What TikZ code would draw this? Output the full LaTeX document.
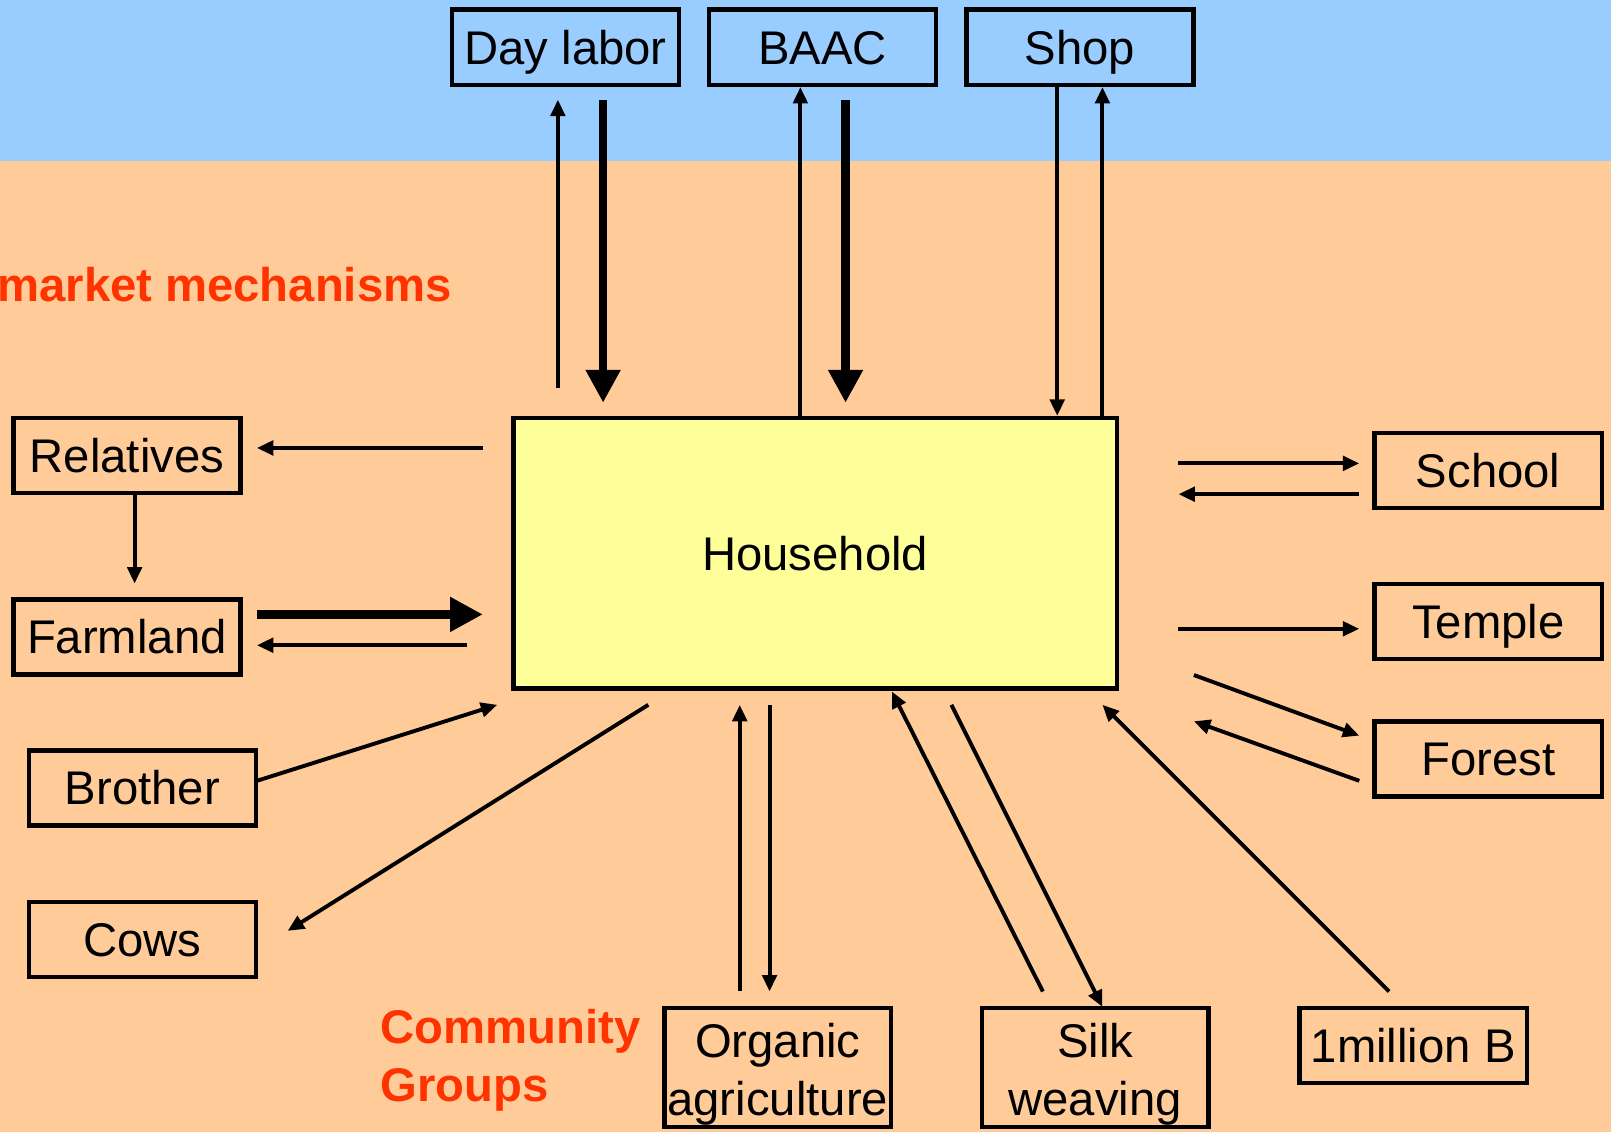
\documentclass[tikz,border=0pt]{standalone}
\usepackage{fontspec}
\setmainfont{Liberation Sans}
\usetikzlibrary{arrows.meta}
\definecolor{skyband}{HTML}{99CCFF}
\definecolor{peach}{HTML}{FFCC99}
\definecolor{hhyellow}{HTML}{FFFF99}
\definecolor{redtext}{HTML}{FF3300}
\tikzset{
  boxbase/.style={draw=black, line width=2.2pt, inner sep=0pt, minimum width=110.5pt, minimum height=36.5pt, font=\fontsize{23}{28}\selectfont, align=center},
  box/.style={boxbase, text height=16.5pt, text depth=0pt},
  thinarrow/.style={line width=1.9pt, -{Triangle[length=8pt,width=7pt]}},
  thickarrow/.style={line width=4pt, -{Triangle[length=16pt,width=16pt]}},
  label/.style={text=redtext, font=\bfseries\fontsize{23}{28}\selectfont, inner sep=0pt, align=left}
}
\begin{document}
\begin{tikzpicture}[x=0.5pt,y=-0.5pt]
\useasboundingbox (0,0) rectangle (1568,1102);
\fill[peach] (0,0) rectangle (1568,1102);
\fill[skyband] (0,0) rectangle (1568,157);

% nodes
\node[box] (day) at (550.5,46) {Day labor};
\node[box] (baac) at (800.5,46) {BAAC};
\node[box] (shop) at (1051,46) {Shop};
\node[box, fill=hhyellow, minimum width=293.5pt, minimum height=131.5pt] (hh) at (793.5,538.5) {Household};
\node[box] (rel) at (123.5,443.5) {Relatives};
\node[box] (farm) at (123.5,620) {Farmland};
\node[box] (bro) at (138.5,767) {Brother};
\node[box] (cows) at (138.5,914.5) {Cows};
\node[box] (school) at (1448.5,458) {School};
\node[box] (temple) at (1448.5,605) {Temple};
\node[box] (forest) at (1448.5,738.5) {Forest};
\node[boxbase, minimum width=110pt, minimum height=58pt] (org) at (757,1039) {\rule{0pt}{23pt}Organic\\agriculture};
\node[boxbase, minimum width=110pt, minimum height=58pt] (silk) at (1066,1039) {\rule{0pt}{23pt}Silk\\weaving};
\node[box] (mil) at (1375.5,1017.5) {1million B};

\node[label, anchor=base west] (mm) at (-3,293) {market mechanisms};
\node[label, anchor=base west] (cg) at (370,1072) {Community\\Groups};

% free end coordinates
\coordinate (d1a) at (543,378); \coordinate (d1b) at (543,97);
\coordinate (d2a) at (587,97);  \coordinate (d2b) at (587,392);
\coordinate (b1) at (779,0);
\coordinate (b2a) at (823,97);  \coordinate (b2b) at (823,392);
\coordinate (s1) at (1029,0);
\coordinate (s2) at (1073,0);
\coordinate (r1a) at (470,436); \coordinate (r1b) at (250,436);
\coordinate (rf) at (131,0); \coordinate (rfb) at (131,568);
\coordinate (f1a) at (250,598); \coordinate (f1b) at (470,598);
\coordinate (f2a) at (455,628); \coordinate (f2b) at (250,628);
\coordinate (bra) at (250,760); \coordinate (brb) at (484,686);
\coordinate (ca) at (631,686); \coordinate (cb) at (280,906);
\coordinate (o1a) at (720,965); \coordinate (o1b) at (720,686);
\coordinate (o2a) at (749,686); \coordinate (o2b) at (749,965);
\coordinate (k1a) at (1015,965); \coordinate (k1b) at (868,673);
\coordinate (k2a) at (926,686); \coordinate (k2b) at (1073,980);
\coordinate (ma) at (1352,965); \coordinate (mb) at (1073,686);
\coordinate (sc1a) at (1147,451); \coordinate (sc1b) at (1323,451);
\coordinate (sc2a) at (1323,481); \coordinate (sc2b) at (1147,481);
\coordinate (ta) at (1147,612); \coordinate (tb) at (1323,612);
\coordinate (fo1a) at (1162,657); \coordinate (fo1b) at (1323,716);
\coordinate (fo2a) at (1323,760); \coordinate (fo2b) at (1162,702);

% connectors
\draw[thinarrow] (d1a) -- (d1b);
\draw[thickarrow] (d2a) -- (d2b);
\draw[thinarrow] (hh.north -| b1) -- (baac.south -| b1);
\draw[thickarrow] (b2a) -- (b2b);
\draw[thinarrow] (shop.south -| s1) -- (hh.north -| s1);
\draw[thinarrow] (hh.north -| s2) -- (shop.south -| s2);
\draw[thinarrow] (r1a) -- (r1b);
\draw[thinarrow] (rel.south -| rf) -- (rfb);
\draw[thickarrow] (f1a) -- (f1b);
\draw[thinarrow] (f2a) -- (f2b);
\draw[thinarrow] (bra) -- (brb);
\draw[thinarrow] (ca) -- (cb);
\draw[thinarrow] (o1a) -- (o1b);
\draw[thinarrow] (o2a) -- (o2b);
\draw[thinarrow] (k1a) -- (k1b);
\draw[thinarrow] (k2a) -- (k2b);
\draw[thinarrow] (ma) -- (mb);
\draw[thinarrow] (sc1a) -- (sc1b);
\draw[thinarrow] (sc2a) -- (sc2b);
\draw[thinarrow] (ta) -- (tb);
\draw[thinarrow] (fo1a) -- (fo1b);
\draw[thinarrow] (fo2a) -- (fo2b);
\end{tikzpicture}
\end{document}
